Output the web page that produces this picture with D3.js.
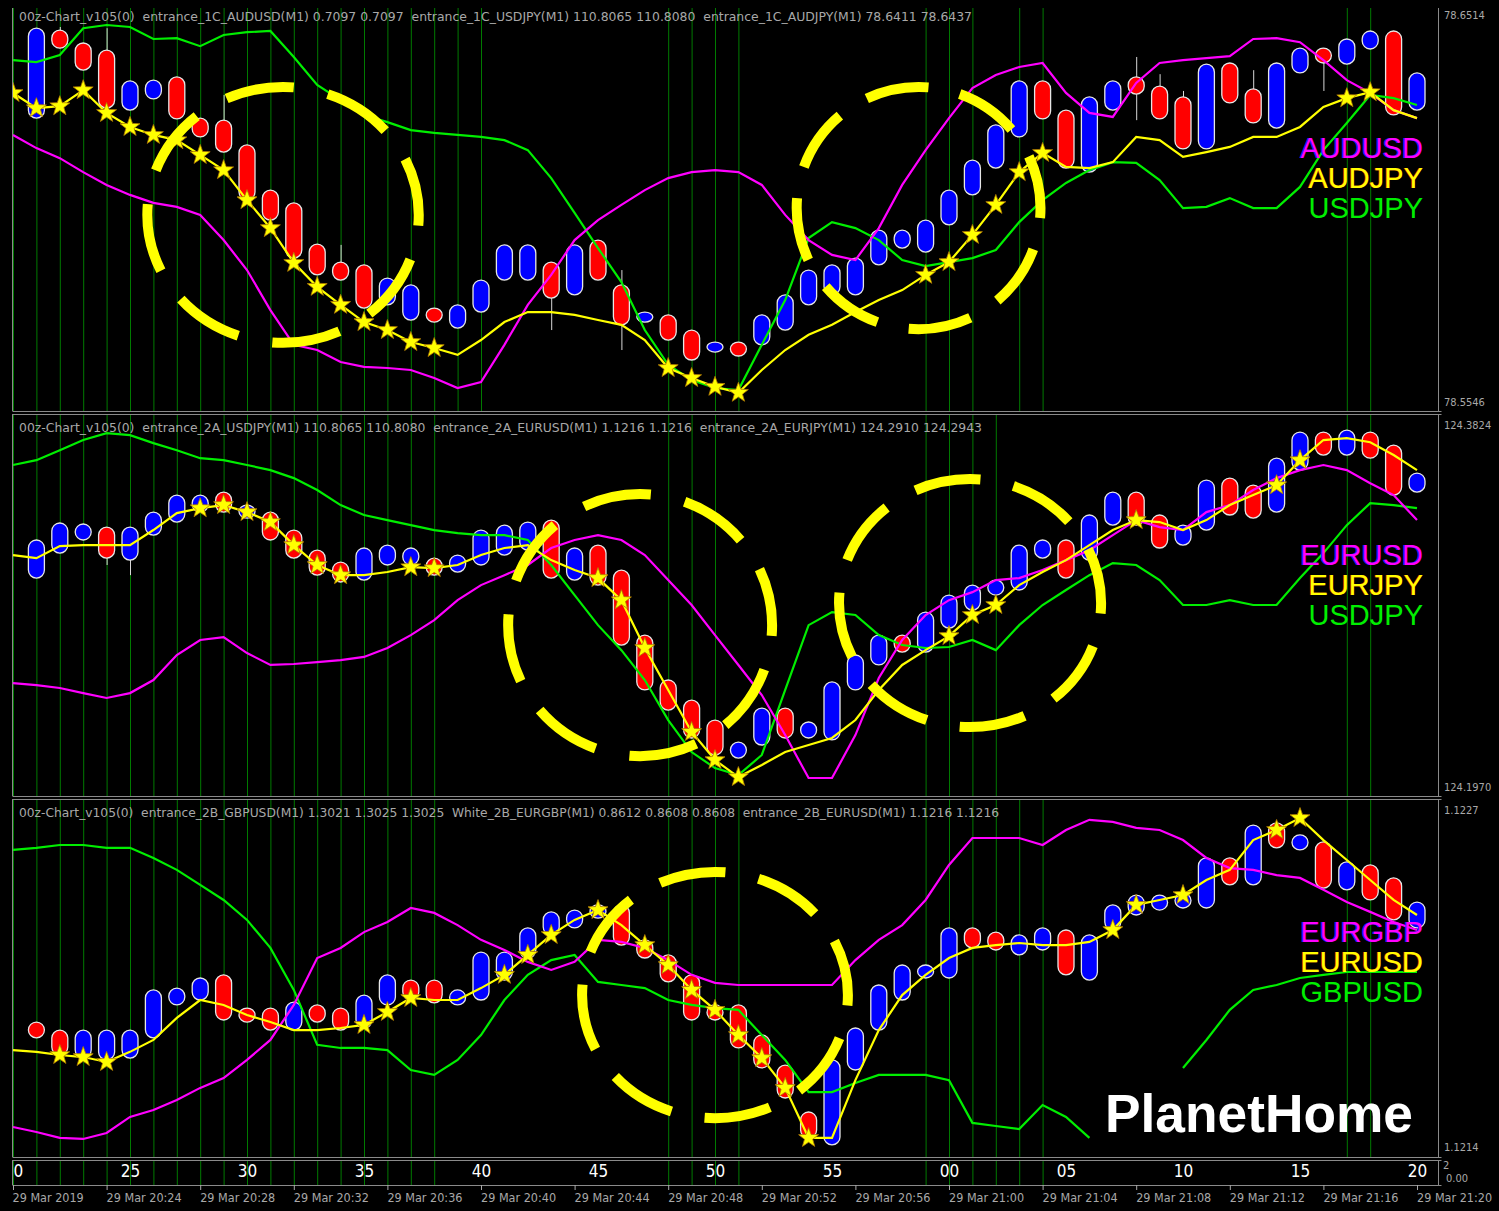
<!DOCTYPE html>
<meta charset="utf-8">
<style>
    body { margin: 0; background: #000; }
    svg { display: block; background: #000; }
    .hdr { fill: #a8a8a8; font-family: "DejaVu Sans Condensed", "DejaVu Sans"; font-size: 11.5px; white-space: pre; }
    .price { fill: #a8a8a8; font-family: "DejaVu Sans Condensed", "DejaVu Sans"; font-size: 11px; }
    .pair { font-family: "Liberation Sans", Arial; font-size: 29px; }
    .minute { fill: #fff; font-family: "DejaVu Sans Condensed", "DejaVu Sans"; font-size: 17px; }
    .date { fill: #a8a8a8; font-family: "DejaVu Sans Condensed", "DejaVu Sans"; font-size: 12.5px; }
    .frame { stroke: #8a8a8a; stroke-width: 1; }
</style>
<svg width="1499" height="1211"></svg>
<script src="https://d3js.org/d3.v7.min.js"></script>
<script>

    // ---- time axis: M1 bars from 20:20 to 21:20, 29 Mar 2019
    var startTime = new Date(2019, 2, 29, 20, 20);
    var barCount = 61;

    // ---- panel 1 : AUDJPY candles (points of 0.0001 above 78.5546), bars 1..60
    var p1Open  = [710,930,898,880,730,758,813,710,705,643,530,498,395,350,343,243,205,235,185,225,305,305,350,268,405,293,200,218,180,125,150,143,180,243,268,268,343,385,375,443,518,585,663,803,730,575,730,813,790,763,633,848,783,685,823,885,845,883,928,730];
    var p1High  = [935,938,898,935,803,805,813,710,768,643,530,498,395,393,343,310,293,235,243,305,393,393,350,393,405,330,225,218,180,150,150,218,268,330,343,360,430,430,455,530,605,693,803,803,730,763,803,863,820,778,845,848,830,848,885,885,908,928,928,823];
    var p1Low   = [710,885,830,735,730,758,708,663,625,505,455,360,318,305,235,243,205,200,185,225,305,305,180,268,305,130,200,155,105,125,115,143,180,243,268,268,343,385,375,443,518,585,663,708,585,575,730,705,708,633,633,748,698,685,823,778,845,883,718,730];
    var p1Close = [935,885,830,735,803,805,708,663,625,505,455,360,318,305,235,310,293,200,243,305,393,393,260,393,305,193,225,155,105,150,115,218,268,330,343,360,430,430,455,530,605,693,803,708,585,763,803,770,708,633,845,748,698,848,885,848,908,928,718,823];
    // overlays, bars 0..60
    var p1Magenta = [668,635,610,575,543,518,498,488,468,405,330,230,143,130,100,88,85,80,60,35,50,143,243,318,405,455,493,530,560,575,580,575,543,468,405,368,355,435,543,630,710,785,818,838,848,773,723,713,798,848,855,860,865,908,910,900,855,805,773,730,710];
    var p1Yellow  = [773,735,740,780,723,688,668,655,618,580,505,435,348,288,243,200,180,150,135,118,155,200,225,225,218,205,193,155,85,60,38,23,80,130,168,193,225,255,280,318,350,418,493,575,623,588,585,600,663,655,613,625,638,663,663,688,738,760,775,730,710];
    var p1Green   = [855,850,868,935,943,938,908,910,890,918,925,928,863,793,755,718,700,680,673,668,663,655,630,560,473,385,300,180,93,55,35,30,143,255,410,450,435,405,355,340,350,360,380,450,505,548,580,600,598,555,485,488,510,485,485,538,630,698,768,760,743];
    var p1Stars = [0,1,2,3,4,5,6,7,8,9,10,11,12,13,14,15,16,17,18,28,29,30,31,39,40,41,42,43,44,57,58];
    var p1Marks = [0,1,2,3,4,5,6,7,8,9,10,11,12,13,14,15,16,17,18,19,20,28,29,30,31,39,40,41,43,44,57,58];
    // dashed circles: [centre bar, centre points, radius in bars, radius in points]
    var p1Rings = [[11.54, 468, 5.8, 320], [38.7, 485, 5.21, 303]];

    // ---- panel 2 : EURJPY candles (points of 0.0001 above 124.1970)
    var p2Open  = [1070,1198,1265,1331,1162,1290,1357,1408,1510,1377,1408,1316,1213,1152,1060,1137,1137,1172,1101,1137,1188,1213,1367,1060,1239,1111,778,548,445,343,148,215,404,251,241,497,625,778,691,814,906,983,1009,1172,1265,1162,1341,1510,1393,1239,1316,1582,1546,1408,1623,1818,1700,1818,1751,1510];
    var p2High  = [1265,1352,1347,1331,1331,1408,1495,1495,1510,1444,1408,1316,1213,1152,1224,1239,1224,1172,1188,1316,1341,1357,1367,1224,1239,1111,778,548,445,343,230,404,404,333,538,676,778,778,896,983,1034,1060,1239,1265,1265,1393,1510,1510,1393,1341,1572,1582,1546,1684,1818,1818,1828,1818,1751,1608];
    var p2Low   = [1070,1198,1265,1137,1085,1290,1357,1408,1408,1377,1265,1172,1085,1050,1060,1137,1137,1085,1101,1137,1188,1213,1070,1060,1034,727,497,394,251,164,148,215,251,251,241,497,625,691,691,814,906,983,1009,1172,1070,1162,1341,1341,1224,1239,1316,1393,1377,1408,1623,1700,1700,1684,1495,1510];
    var p2Close = [1265,1352,1347,1172,1331,1408,1495,1495,1408,1444,1265,1172,1085,1050,1224,1239,1224,1085,1188,1316,1341,1357,1070,1224,1034,727,497,394,251,164,230,404,251,333,538,676,778,691,896,983,1034,1060,1239,1265,1070,1393,1510,1341,1224,1341,1572,1393,1377,1684,1818,1700,1828,1684,1495,1608];
    var p2Magenta = [532,522,507,481,456,481,548,676,753,768,686,625,630,640,650,666,712,778,855,957,1034,1085,1137,1224,1265,1290,1265,1188,1060,932,778,625,471,266,46,46,266,558,753,881,957,998,1060,1070,1111,1162,1213,1290,1367,1331,1316,1408,1444,1521,1582,1623,1649,1623,1556,1495,1367];
    var p2Yellow  = [1188,1172,1234,1239,1239,1239,1316,1403,1428,1444,1408,1357,1239,1137,1085,1085,1101,1126,1121,1137,1188,1224,1239,1162,1111,1070,957,712,497,282,138,51,113,179,215,251,343,497,625,701,773,881,932,1034,1101,1162,1239,1316,1367,1357,1316,1367,1444,1495,1546,1674,1777,1787,1766,1700,1623];
    var p2Green   = [1649,1674,1725,1777,1812,1802,1761,1725,1684,1674,1649,1623,1582,1521,1444,1393,1367,1341,1316,1300,1290,1290,1265,1137,983,829,701,548,343,179,97,61,164,497,829,896,881,778,727,712,717,753,701,829,932,1009,1085,1147,1137,1060,932,932,957,932,932,1070,1198,1341,1454,1444,1428];
    var p2Stars = [8,9,10,11,12,13,14,17,18,25,26,27,29,30,31,40,41,42,48,54,55];
    var p2Marks = [0,1,2,3,4,5,6,7,8,9,10,11,12,13,14,15,16,17,18,28,29,30,39,40,41,42,57,58];
    var p2Rings = [[26.8, 829, 5.64, 671], [40.9, 942, 5.6, 635]];

    // ---- panel 3 : EURUSD candles (points of 0.00001 above 1.12140)
    var p3Open  = [48.2,45.1,34.3,33.6,34.3,42.1,54.8,56.7,66.4,53.6,53.6,45.1,54.8,53.6,45.9,54.8,64.4,64.4,54.8,56.7,64.4,72.9,81.8,84.5,88.3,93.4,79.9,74.1,66.4,54.8,54.8,43.2,31.6,13.5,0.8,29.7,45.1,56.7,65.2,65.2,84.5,82.9,74.1,76.0,83.7,64.4,83.7,89.5,91.4,92.2,92.2,111.5,101.1,125.0,114.6,117.7,99.2,108.8,103.8,84.5];
    var p3High  = [48.2,45.1,45.1,45.1,45.1,60.6,61.3,65.2,66.4,53.6,53.6,55.9,54.8,53.6,58.6,66.4,64.4,64.4,60.6,75.2,75.2,84.5,90.7,91.4,93.4,93.4,79.9,74.1,66.4,54.8,54.8,43.2,31.6,13.5,33.6,45.9,62.5,70.2,70.2,84.5,84.5,82.9,81.8,84.5,83.7,81.8,93.4,97.2,97.2,98.0,111.5,111.5,124.2,125.0,120.4,117.7,110.0,108.8,103.8,94.5];
    var p3Low   = [42.1,35.5,34.3,33.6,34.3,42.1,54.8,56.7,49.0,48.2,45.1,45.1,48.2,45.1,45.9,54.8,56.7,55.6,54.8,56.7,64.4,72.9,81.8,84.5,88.3,77.9,72.9,63.7,49.0,49.0,38.2,30.5,18.9,3.5,0.8,29.7,45.1,56.7,65.2,65.2,76.8,76.0,74.1,76.0,66.4,64.4,83.7,89.5,91.4,92.2,92.2,101.1,101.1,115.4,114.6,99.9,99.2,95.3,87.6,84.5];
    var p3Close = [42.1,35.5,45.1,45.1,45.1,60.6,61.3,65.2,49.0,48.2,45.1,55.9,48.2,45.1,58.6,66.4,56.7,55.6,60.6,75.2,75.2,84.5,90.7,91.4,93.4,77.9,72.9,63.7,49.0,49.0,38.2,30.5,18.9,3.5,33.6,45.9,62.5,70.2,70.2,84.5,76.8,76.0,81.8,84.5,66.4,81.8,93.4,97.2,97.2,98.0,111.5,101.1,124.2,115.4,120.4,99.9,110.0,95.3,87.6,94.5];
    var p3Magenta = [7.7,5.8,3.5,3.1,5.4,11.6,14.3,18.1,22.8,26.6,33.6,41.3,54.8,72.9,76.8,82.9,86.8,92.2,90.3,85.6,79.9,76.0,71.4,68.3,71.4,79.9,79.1,76.8,72.1,66.4,63.3,62.5,62.5,62.5,62.5,62.5,72.1,79.9,85.6,95.3,108.8,119.2,119.2,119.2,116.5,122.3,126.2,125.4,123.1,122.3,118.4,111.5,107.6,106.9,104.9,103.8,99.2,94.5,90.7,86.8,83.7];
    var p3Yellow  = [37.4,36.7,35.5,34.7,32.8,36.7,41.3,49.8,56.7,54.8,50.9,48.2,45.1,45.1,45.9,47.1,52.1,57.5,56.7,56.7,61.3,66.4,74.1,81.8,87.6,91.4,85.6,77.9,70.2,60.6,52.9,43.2,34.3,22.8,3.5,3.5,25.8,45.1,58.6,66.4,72.9,76.8,77.9,78.7,77.9,77.9,79.1,83.7,93.4,95.3,97.2,103.0,106.9,118.4,122.3,126.9,118.4,110.7,103.0,95.3,89.5];
    // GBPUSD drops out of the window for a few bars (no value drawn)
    var p3Green   = [114.6,115.4,116.5,116.5,115.4,115.4,111.5,106.9,101.1,95.3,87.6,76.8,60.6,39.4,38.2,38.2,37.4,29.7,27.8,33.6,43.2,56.7,66.4,72.1,74.1,63.7,62.5,61.3,56.7,54.8,53.6,52.9,43.2,33.6,21.2,21.2,24.7,27.8,27.8,27.8,25.8,9.3,8.1,6.9,16.2,11.6,3.5,null,null,null,30.5,41.3,52.9,60.6,62.5,65.2,66.4,67.5,67.5,67.5,67.5];
    var p3Stars = [2,3,4,15,16,17,21,22,23,25,27,28,29,30,31,32,33,34,47,48,50,54,55];
    var p3Marks = [0,1,2,3,4,5,6,7,8,9,10,11,12,13,14,15,16,17,18,28,29,30,31,39,40,41,42,43,44,57,58];
    var p3Rings = [[30.0, 58.6, 5.68, 47.5]];

    var axisMarks = [0,1,2,3,4,5,6,7,8,9,10,11,12,13,14,15,16,17,18,28,29,30,31,39,40,41,42,43,44];

    var headers = [
        "00z-Chart_v105(0)  entrance_1C_AUDUSD(M1) 0.7097 0.7097  entrance_1C_USDJPY(M1) 110.8065 110.8080  entrance_1C_AUDJPY(M1) 78.6411 78.6437",
        "00z-Chart_v105(0)  entrance_2A_USDJPY(M1) 110.8065 110.8080  entrance_2A_EURUSD(M1) 1.1216 1.1216  entrance_2A_EURJPY(M1) 124.2910 124.2943",
        "00z-Chart_v105(0)  entrance_2B_GBPUSD(M1) 1.3021 1.3025 1.3025  White_2B_EURGBP(M1) 0.8612 0.8608 0.8608  entrance_2B_EURUSD(M1) 1.1216 1.1216"
    ];
    var pairNames = [["AUDUSD", "AUDJPY", "USDJPY"], ["EURUSD", "EURJPY", "USDJPY"], ["EURGBP", "EURUSD", "GBPUSD"]];

    var svg = d3.select("svg"),
        left = 12.5,
        right = 1438.5;

    var x = d3.scaleLinear().domain([0, barCount - 1]).range([13, 1417]);
    var timeX = d3.scaleTime()
        .domain([startTime, d3.timeMinute.offset(startTime, barCount - 1)])
        .range([13, 1417]);

    var panels = [
        {top: 8, bottom: 411, yHi: 15, yLo: 402, base: 78.5546, point: 0.0001, span: 968, digits: 4, hdrY: 21, hdrW: 953, labelY: 158,
            open: p1Open, high: p1High, low: p1Low, close: p1Close, magenta: p1Magenta, yellow: p1Yellow, green: p1Green, stars: p1Stars, marks: p1Marks, rings: p1Rings},
        {top: 414, bottom: 796, yHi: 425, yLo: 787, base: 124.1970, point: 0.0001, span: 1854, digits: 4, hdrY: 432, hdrW: 963, labelY: 565,
            open: p2Open, high: p2High, low: p2Low, close: p2Close, magenta: p2Magenta, yellow: p2Yellow, green: p2Green, stars: p2Stars, marks: p2Marks, rings: p2Rings},
        {top: 799, bottom: 1157, yHi: 810, yLo: 1147, base: 1.12140, point: 0.00001, span: 130, digits: 4, hdrY: 817, hdrW: 980, labelY: 942,
            open: p3Open, high: p3High, low: p3Low, close: p3Close, magenta: p3Magenta, yellow: p3Yellow, green: p3Green, stars: p3Stars, marks: p3Marks, rings: p3Rings}
    ];

    function starPath(ro, ri) {
        var pts = [];
        for (var k = 0; k < 10; k++) {
            var r = k % 2 ? ri : ro;
            var a = -Math.PI / 2 + k * Math.PI / 5;
            pts.push([r * Math.cos(a), r * Math.sin(a)]);
        }
        return "M" + pts.join("L") + "Z";
    }

    panels.forEach(function (p, pi) {
        var y = d3.scaleLinear().domain([0, p.span]).range([p.yLo, p.yHi]);
        var clipId = "clip" + pi;

        svg.append("clipPath").attr("id", clipId)
            .append("rect")
            .attr("x", left).attr("y", p.top)
            .attr("width", right - left).attr("height", p.bottom - p.top);

        var g = svg.append("g").attr("clip-path", "url(#" + clipId + ")");

        // signal bars
        g.append("g").selectAll("line")
            .data(p.marks)
            .enter().append("line")
            .attr("x1", function (d) { return x(d) + 0.5; })
            .attr("x2", function (d) { return x(d) + 0.5; })
            .attr("y1", p.top).attr("y2", p.bottom)
            .attr("stroke", "#007a00").attr("stroke-width", 1);

        // candles
        var bars = p.open.map(function (o, k) {
            return {i: k + 1, o: o, h: p.high[k], l: p.low[k], c: p.close[k]};
        });

        var cg = g.append("g");
        cg.selectAll("line")
            .data(bars.filter(function (d) { return d.h > Math.max(d.o, d.c) || d.l < Math.min(d.o, d.c); }))
            .enter().append("line")
            .attr("x1", function (d) { return x(d.i) + 0.5; })
            .attr("x2", function (d) { return x(d.i) + 0.5; })
            .attr("y1", function (d) { return y(d.h); })
            .attr("y2", function (d) { return y(d.l); })
            .attr("stroke", "#d8d8d8").attr("stroke-width", 1);

        cg.selectAll("rect")
            .data(bars)
            .enter().append("rect")
            .attr("x", function (d) { return x(d.i) - 8; })
            .attr("width", 16)
            .attr("y", function (d) { return y(Math.max(d.o, d.c)); })
            .attr("height", function (d) { return Math.max(8, Math.abs(y(d.o) - y(d.c))); })
            .attr("rx", 8)
            .attr("ry", function (d) { return Math.min(8, Math.max(4, Math.abs(y(d.o) - y(d.c)) / 2)); })
            .attr("fill", function (d) { return d.c >= d.o ? "#0000ff" : "#ff0000"; })
            .attr("stroke", "#e6e6e6").attr("stroke-width", 1.3);

        // overlay lines
        var line = d3.line()
            .defined(function (d) { return d !== null; })
            .x(function (d, k) { return x(k); })
            .y(function (d) { return y(d); });

        [[p.green, "#00ee00"], [p.magenta, "#ff00ff"], [p.yellow, "#ffff00"]].forEach(function (s) {
            g.append("path")
                .datum(s[0])
                .attr("d", line)
                .attr("fill", "none")
                .attr("stroke", s[1])
                .attr("stroke-width", 2.2);
        });

        g.append("g").selectAll("path")
            .data(p.stars)
            .enter().append("path")
            .attr("d", starPath(10.5, 4.3))
            .attr("transform", function (d) { return "translate(" + x(d) + "," + y(p.yellow[d]) + ")"; })
            .attr("fill", "#ffff00")
            .attr("stroke", "#b07800").attr("stroke-width", 0.8);

        // dashed rings, eight dashes each
        g.append("g").selectAll("ellipse")
            .data(p.rings)
            .enter().append("ellipse")
            .attr("cx", function (d) { return x(d[0]); })
            .attr("cy", function (d) { return y(d[1]); })
            .attr("rx", function (d) { return x(d[0] + d[2]) - x(d[0]); })
            .attr("ry", function (d) { return y(0) - y(d[3]); })
            .attr("pathLength", 100)
            .attr("fill", "none")
            .attr("stroke", "#ffff00")
            .attr("stroke-width", 10)
            .attr("stroke-dasharray", "8.3 4.2")
            .attr("stroke-dashoffset", 7);

        // pair labels
        var names = pairNames[pi], colors = ["#ff00ff", "#ffff00", "#00ee00"], shades = ["#2020ff", "#e02000", null];
        names.forEach(function (n, k) {
            if (shades[k]) {
                svg.append("text").attr("class", "pair")
                    .attr("x", 1422).attr("y", p.labelY + k * 30)
                    .attr("text-anchor", "end").attr("fill", shades[k])
                    .text(n);
            }
            svg.append("text").attr("class", "pair")
                .attr("x", 1423).attr("y", p.labelY + k * 30)
                .attr("text-anchor", "end").attr("fill", colors[k])
                .text(n);
        });

        // header
        svg.append("text").attr("class", "hdr")
            .attr("x", 19).attr("y", p.hdrY)
            .attr("textLength", p.hdrW).attr("lengthAdjust", "spacingAndGlyphs")
            .text(headers[pi]);

        // price scale
        svg.append("text").attr("class", "price")
            .attr("x", 1444).attr("y", y(p.span) + 4)
            .text((p.base + p.span * p.point).toFixed(p.digits));
        svg.append("text").attr("class", "price")
            .attr("x", 1444).attr("y", y(0) + 4)
            .text(p.base.toFixed(p.digits));

        // frame
        svg.append("line").attr("class", "frame")
            .attr("x1", left).attr("x2", left).attr("y1", p.top).attr("y2", p.bottom);
        svg.append("line").attr("class", "frame")
            .attr("x1", right).attr("x2", right).attr("y1", p.top).attr("y2", p.bottom);
        svg.append("line").attr("class", "frame")
            .attr("x1", left).attr("x2", right + 3).attr("y1", p.bottom + 0.5).attr("y2", p.bottom + 0.5);
        if (pi > 0) {
            svg.append("line").attr("class", "frame")
                .attr("x1", left).attr("x2", right + 3).attr("y1", p.top + 0.5).attr("y2", p.top + 0.5);
        }
    });

    // ---- minute strip
    var stripTop = 1160, stripBottom = 1185;
    svg.append("clipPath").attr("id", "clipStrip")
        .append("rect").attr("x", left).attr("y", stripTop)
        .attr("width", right - left).attr("height", stripBottom - stripTop);
    var strip = svg.append("g").attr("clip-path", "url(#clipStrip)");

    strip.selectAll("line")
        .data(axisMarks)
        .enter().append("line")
        .attr("x1", function (d) { return x(d) + 0.5; })
        .attr("x2", function (d) { return x(d) + 0.5; })
        .attr("y1", stripTop).attr("y2", stripBottom)
        .attr("stroke", "#007a00");

    var minuteAxis = d3.axisBottom(timeX)
        .ticks(d3.timeMinute.every(5))
        .tickFormat(d3.timeFormat("%M"))
        .tickSize(0);
    strip.append("g")
        .attr("transform", "translate(0," + (stripTop + 2) + ")")
        .call(minuteAxis)
        .call(function (s) { s.select(".domain").remove(); })
        .selectAll("text")
        .attr("class", "minute")
        .attr("fill", null)
        .attr("font-family", null).attr("font-size", null);

    svg.append("line").attr("class", "frame")
        .attr("x1", left).attr("x2", left).attr("y1", stripTop).attr("y2", stripBottom);
    svg.append("line").attr("class", "frame")
        .attr("x1", right).attr("x2", right).attr("y1", stripTop).attr("y2", stripBottom);
    svg.append("line").attr("class", "frame")
        .attr("x1", left).attr("x2", right + 3).attr("y1", stripTop + 0.5).attr("y2", stripTop + 0.5);
    svg.append("line").attr("class", "frame")
        .attr("x1", left).attr("x2", right + 3).attr("y1", stripBottom + 0.5).attr("y2", stripBottom + 0.5);

    svg.append("text").attr("class", "price").attr("x", 1443).attr("y", 1169).text("2");
    svg.append("text").attr("class", "price").attr("x", 1446).attr("y", 1182).text("0.00");

    // ---- date axis
    var dateTicks = d3.timeMinute.every(4).range(startTime, d3.timeMinute.offset(startTime, barCount));
    var fmtDate = d3.timeFormat("%d %b %H:%M");
    var dates = svg.append("g");
    dates.selectAll("line")
        .data(dateTicks)
        .enter().append("line")
        .attr("x1", function (d) { return timeX(d) + 0.5; })
        .attr("x2", function (d) { return timeX(d) + 0.5; })
        .attr("y1", stripBottom).attr("y2", stripBottom + 5)
        .attr("stroke", "#a8a8a8");
    dates.selectAll("text")
        .data(dateTicks)
        .enter().append("text")
        .attr("class", "date")
        .attr("x", function (d, k) { return k === 0 ? left : timeX(d); })
        .attr("y", 1202)
        .text(function (d, k) { return k === 0 ? "29 Mar 2019" : fmtDate(d); });

    // ---- watermark
    svg.append("text")
        .attr("x", 1105).attr("y", 1132)
        .attr("textLength", 308).attr("lengthAdjust", "spacingAndGlyphs")
        .attr("fill", "#fff")
        .attr("font-family", "Liberation Sans, Arial")
        .attr("font-weight", "bold")
        .attr("font-size", 53)
        .text("PlanetHome");

</script>
